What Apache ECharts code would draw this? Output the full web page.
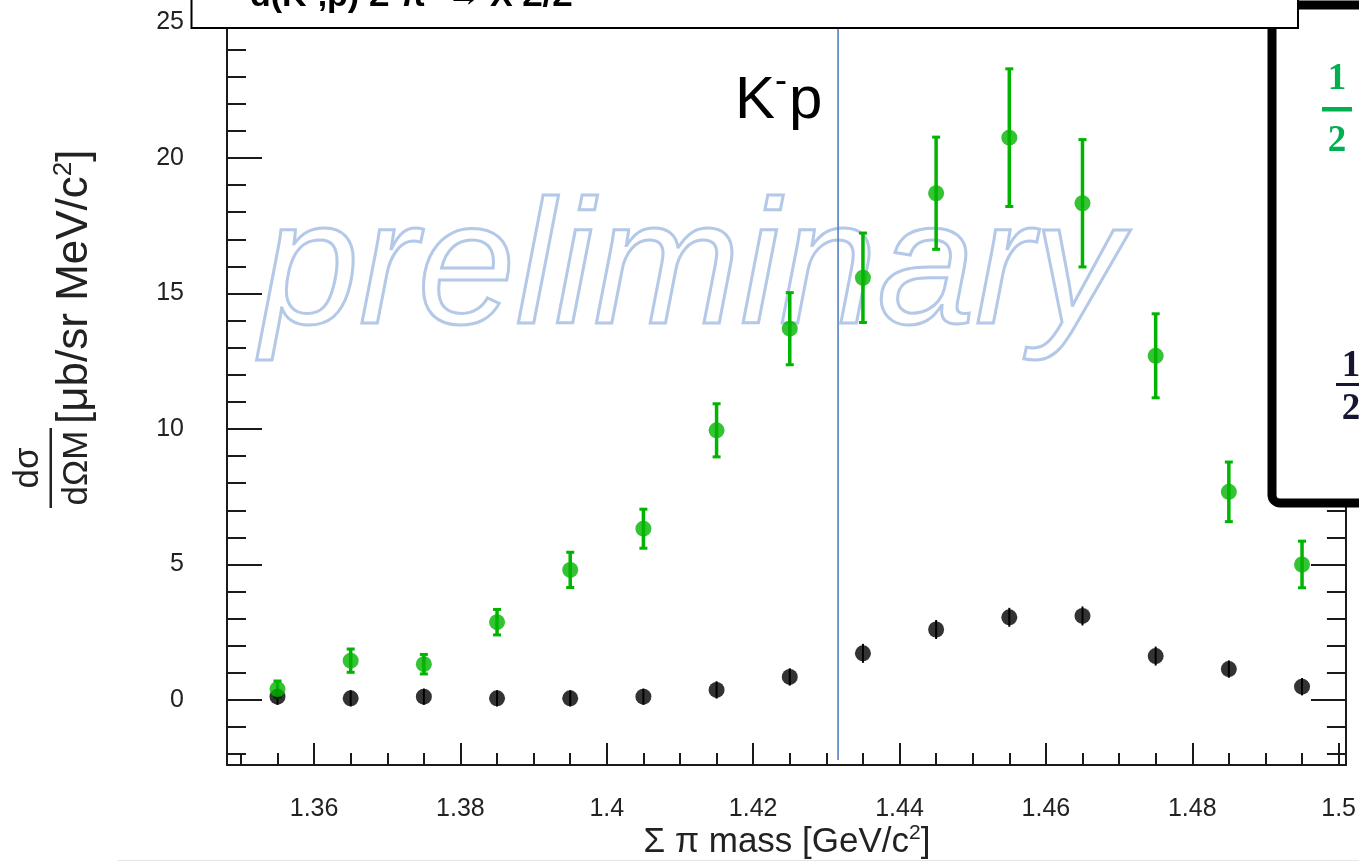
<!DOCTYPE html>
<html>
<head>
<meta charset="utf-8">
<script src="https://cdn.jsdelivr.net/npm/echarts@6/dist/echarts.min.js"></script>
<style>
  html, body { margin: 0; padding: 0; background: #ffffff; }
  #chart { width: 1359px; height: 862px; }
</style>
</head>
<body>
<div id="chart"></div>
<script>
// Σπ invariant-mass bin centres (GeV/c²)
const massBins = [1.355, 1.365, 1.375, 1.385, 1.395, 1.405, 1.415, 1.425, 1.435, 1.445, 1.455, 1.465, 1.475, 1.485, 1.495];
// green set: dσ/dΩM and its error (μb/sr MeV/c²)
const greenXs  = [0.40, 1.45, 1.32, 2.87, 4.80, 6.32, 9.95, 13.70, 15.58, 18.70, 20.75, 18.33, 12.70, 7.68, 5.00];
const greenErr = [0.30, 0.43, 0.36, 0.47, 0.65, 0.72, 0.98, 1.33, 1.65, 2.07, 2.54, 2.35, 1.55, 1.10, 0.86];
// black set: dσ/dΩM and its error
const blackXs  = [0.12, 0.06, 0.12, 0.06, 0.06, 0.12, 0.37, 0.85, 1.72, 2.60, 3.05, 3.10, 1.62, 1.14, 0.49];
const blackErr = [0.30, 0.30, 0.30, 0.30, 0.30, 0.30, 0.32, 0.32, 0.35, 0.35, 0.35, 0.35, 0.35, 0.32, 0.32];
// K⁻p threshold mass (GeV/c²)
const kpThreshold = [1.4316];

// axis ticks and labels
const xMajorTicks = [1.36, 1.38, 1.40, 1.42, 1.44, 1.46, 1.48, 1.50];
const xMinorTicks = [1.35, 1.355, 1.365, 1.37, 1.375, 1.385, 1.39, 1.395, 1.405, 1.41, 1.415, 1.425, 1.43, 1.435,
                     1.445, 1.45, 1.455, 1.465, 1.47, 1.475, 1.485, 1.49, 1.495];
const yMajorTicks = [0, 5, 10, 15, 20, 25];
const yMinorTicks = [-2, -1, 1, 2, 3, 4, 6, 7, 8, 9, 11, 12, 13, 14, 16, 17, 18, 19, 21, 22, 23, 24];
const xRange = [1.3481, 1.5010];
const yRange = [-2.4, 25];

const GREEN = '#00b400';
const AXIS = '#1a1a1a';
const FONT = '"Liberation Sans", Arial, Helvetica, sans-serif';

const chart = echarts.init(document.getElementById('chart'), null, { renderer: 'canvas' });

function errorBars(values, errors, color, barWidth, capHalf) {
  return {
    type: 'custom',
    xAxisIndex: 0, yAxisIndex: 0,
    z: 3,
    silent: true,
    data: massBins.map((m, i) => [m, values[i] - errors[i], values[i] + errors[i]]),
    renderItem(params, api) {
      const top = api.coord([api.value(0), api.value(2)]);
      const bot = api.coord([api.value(0), api.value(1)]);
      const children = [{
        type: 'line',
        shape: { x1: top[0], y1: top[1], x2: bot[0], y2: bot[1] },
        style: { stroke: color, lineWidth: barWidth }
      }];
      if (capHalf > 0) {
        children.push({ type: 'line', shape: { x1: top[0] - capHalf, y1: top[1], x2: top[0] + capHalf, y2: top[1] },
                        style: { stroke: color, lineWidth: 3 } });
        children.push({ type: 'line', shape: { x1: bot[0] - capHalf, y1: bot[1], x2: bot[0] + capHalf, y2: bot[1] },
                        style: { stroke: color, lineWidth: 3 } });
      }
      return { type: 'group', children };
    }
  };
}

const tickLine = { lineStyle: { color: AXIS, width: 2 } };

const option = {
  animation: false,
  backgroundColor: '#ffffff',
  grid: { left: 227, right: 12, top: 22.5, bottom: 97, containLabel: false },
  xAxis: [
    {
      type: 'value', min: xRange[0], max: xRange[1], position: 'bottom',
      axisLine: { show: true, onZero: false, lineStyle: { color: AXIS, width: 2 } },
      axisTick: { show: true, inside: true, length: 22, customValues: xMajorTicks, ...tickLine },
      axisLabel: { show: true, customValues: xMajorTicks, margin: 32, fontSize: 25, color: '#222',
                   fontFamily: FONT, formatter: v => String(+v.toFixed(2)) },
      splitLine: { show: false }
    },
    {
      type: 'value', min: xRange[0], max: xRange[1], position: 'bottom',
      axisLine: { show: false, onZero: false },
      axisTick: { show: true, inside: true, length: 12, customValues: xMinorTicks, ...tickLine },
      axisLabel: { show: false }, splitLine: { show: false }
    }
  ],
  yAxis: [
    {
      type: 'value', min: yRange[0], max: yRange[1], position: 'left',
      axisLine: { show: true, onZero: false, lineStyle: { color: AXIS, width: 2 } },
      axisTick: { show: true, inside: true, length: 35, customValues: yMajorTicks, ...tickLine },
      axisLabel: { show: true, customValues: yMajorTicks, margin: 43, fontSize: 25, color: '#222', fontFamily: FONT },
      splitLine: { show: false }
    },
    {
      type: 'value', min: yRange[0], max: yRange[1], position: 'left',
      axisLine: { show: false, onZero: false },
      axisTick: { show: true, inside: true, length: 19, customValues: yMinorTicks, ...tickLine },
      axisLabel: { show: false }, splitLine: { show: false }
    },
    {
      type: 'value', min: yRange[0], max: yRange[1], position: 'right',
      axisLine: { show: true, onZero: false, lineStyle: { color: AXIS, width: 2 } },
      axisTick: { show: true, inside: true, length: 35, customValues: yMajorTicks, ...tickLine },
      axisLabel: { show: false }, splitLine: { show: false }
    },
    {
      type: 'value', min: yRange[0], max: yRange[1], position: 'right',
      axisLine: { show: false, onZero: false },
      axisTick: { show: true, inside: true, length: 19, customValues: yMinorTicks, ...tickLine },
      axisLabel: { show: false }, splitLine: { show: false }
    }
  ],
  series: [
    {
      // K⁻p threshold: vertical line across the frame
      type: 'custom', xAxisIndex: 0, yAxisIndex: 0, z: 2, silent: true,
      data: kpThreshold.map(m => [m]),
      renderItem(params, api) {
        const cs = params.coordSys;
        const x = api.coord([api.value(0), 0])[0];
        return {
          type: 'line',
          shape: { x1: x, y1: cs.y, x2: x, y2: cs.y + cs.height - 5 },
          style: { stroke: '#4a78c0', lineWidth: 1.5 }
        };
      }
    },
    errorBars(blackXs, blackErr, '#000000', 2, 0),
    errorBars(greenXs, greenErr, GREEN, 3.5, 4),
    {
      type: 'scatter', xAxisIndex: 0, yAxisIndex: 0, z: 4,
      symbol: 'circle', symbolSize: 16,
      itemStyle: { color: '#000000' },
      data: massBins.map((m, i) => [m, blackXs[i]])
    },
    {
      type: 'scatter', xAxisIndex: 0, yAxisIndex: 0, z: 5,
      symbol: 'circle', symbolSize: 16,
      itemStyle: { color: GREEN },
      data: massBins.map((m, i) => [m, greenXs[i]])
    }
  ],
  graphic: [
    // outlined watermark
    {
      type: 'text', z: 1, x: 261, y: 362,
      style: {
        text: 'preliminary', font: 'italic 176px "Liberation Sans", Arial, sans-serif',
        fill: 'rgba(0,0,0,0)', stroke: '#b4c8e8', lineWidth: 3,
        verticalAlign: 'bottom', align: 'left'
      }
    },
    // K⁻p label
    { type: 'text', z: 50, x: 735, y: 131,
      style: { text: 'K', font: '60px "Liberation Sans", Arial, sans-serif', fill: '#000', verticalAlign: 'bottom' } },
    { type: 'text', z: 50, x: 775, y: 100,
      style: { text: '-', font: '36px "Liberation Sans", Arial, sans-serif', fill: '#000', verticalAlign: 'bottom' } },
    { type: 'text', z: 50, x: 789, y: 131,
      style: { text: 'p', font: '60px "Liberation Sans", Arial, sans-serif', fill: '#000', verticalAlign: 'bottom' } },
    // y axis title
    {
      type: 'group', x: 0, y: 468, rotation: Math.PI / 2, z: 50,
      children: [
        { type: 'text', x: 0, y: 46, style: { text: 'dσ', font: '35px ' + FONT, fill: '#222', align: 'center', verticalAlign: 'bottom' } },
        { type: 'rect', shape: { x: -40, y: 49.5, width: 80, height: 2.5 }, style: { fill: '#222' } },
        { type: 'text', x: 0, y: 95, style: { text: 'dΩM', font: '35px ' + FONT, fill: '#222', align: 'center', verticalAlign: 'bottom' } },
        { type: 'text', x: 44, y: 99, style: {
            text: '[μb/sr MeV/c{s|2}]', font: '44px ' + FONT, fill: '#222', align: 'left', verticalAlign: 'bottom',
            rich: { s: { fontSize: 26, fontFamily: FONT, verticalAlign: 'top', padding: [0, 0, 22, 0] } } } }
      ]
    },
    // x axis title
    {
      type: 'text', x: 787, y: 861, z: 50,
      style: {
        text: 'Σ π mass [GeV/c{s|2}]', font: '35px ' + FONT, fill: '#222', align: 'center', verticalAlign: 'bottom',
        rich: { s: { fontSize: 21, fontFamily: FONT, verticalAlign: 'top', padding: [0, 0, 17, 0] } }
      }
    },
    // faint rule along the bottom
    { type: 'line', z: 50, shape: { x1: 118, y1: 860.5, x2: 1359, y2: 860.5 }, style: { stroke: '#e6e6e6', lineWidth: 1 } },
    // formula panel on the right
    { type: 'rect', z: 100, shape: { x: 1272, y: 5, width: 300, height: 498, r: 8 },
      style: { fill: '#ffffff', stroke: '#000000', lineWidth: 9 } },
    { type: 'text', z: 101, x: 1337, y: 98,
      style: { text: '1', font: 'bold 37px "Liberation Serif", "DejaVu Serif", serif', fill: '#00b050', align: 'center', verticalAlign: 'bottom' } },
    { type: 'rect', z: 101, shape: { x: 1322, y: 107, width: 30, height: 4.5 }, style: { fill: '#00b050' } },
    { type: 'text', z: 101, x: 1337, y: 160,
      style: { text: '2', font: 'bold 37px "Liberation Serif", "DejaVu Serif", serif', fill: '#00b050', align: 'center', verticalAlign: 'bottom' } },
    { type: 'text', z: 101, x: 1351, y: 385,
      style: { text: '1', font: 'bold 37px "Liberation Serif", "DejaVu Serif", serif', fill: '#161633', align: 'center', verticalAlign: 'bottom' } },
    { type: 'rect', z: 101, shape: { x: 1336, y: 383, width: 40, height: 3 }, style: { fill: '#161633' } },
    { type: 'text', z: 101, x: 1351, y: 428,
      style: { text: '2', font: 'bold 37px "Liberation Serif", "DejaVu Serif", serif', fill: '#161633', align: 'center', verticalAlign: 'bottom' } },
    // title panel across the top
    { type: 'rect', z: 110, shape: { x: 191.5, y: -20, width: 1106.5, height: 48 },
      style: { fill: '#ffffff', stroke: '#000000', lineWidth: 2 } },
    { type: 'text', z: 111, x: 250, y: 14,
      style: { text: 'd(K⁻,p) Σ⁻π⁺ → X Σ/Σ', font: 'bold 34px "Liberation Sans", Arial, sans-serif', fill: '#000', verticalAlign: 'bottom' } }
  ]
};

chart.setOption(option);
</script>
</body>
</html>
